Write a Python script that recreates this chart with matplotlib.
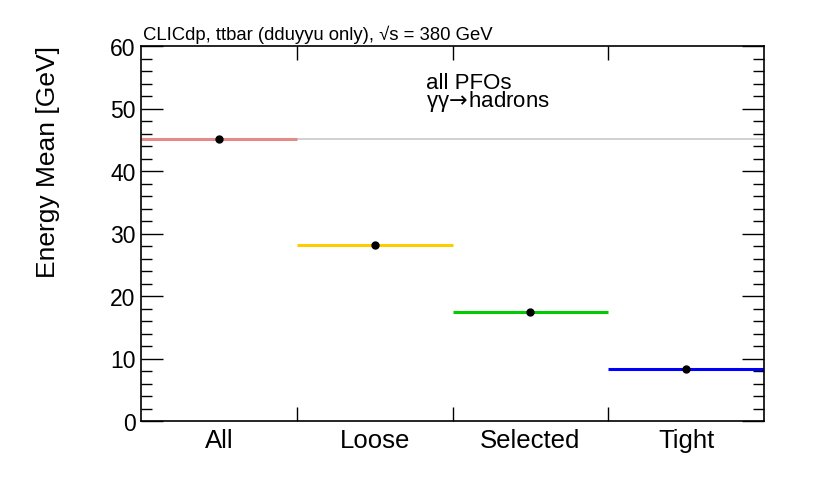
import numpy as np
import matplotlib
matplotlib.use("Agg")
import matplotlib.pyplot as plt
from matplotlib.ticker import MultipleLocator, FixedLocator, NullFormatter

plt.rcParams['font.family'] = ['Liberation Sans', 'DejaVu Sans']
plt.rcParams['mathtext.fontset'] = 'dejavusans'

# values
categories = ["All", "Loose", "Selected", "Tight"]
energy_mean = [45.1, 28.15, 17.45, 8.3]
line_colors = ["#e58a8a", "#ffcc00", "#00cc00", "#0000ff"]
reference_value = 45.1

fig = plt.figure(figsize=(8.3, 4.85), dpi=100)
ax = fig.add_axes([141 / 830, 63 / 485, 623 / 830, 375 / 485])

x = np.arange(len(categories))

# gray reference line at the "All" value
ax.axhline(reference_value, color="#c8c8c8", lw=1.2, zorder=1)

for xi, val, col in zip(x, energy_mean, line_colors):
    ax.hlines(val, xi - 0.5, xi + 0.5, color=col, lw=2.2, zorder=2)
ax.plot(x, energy_mean, "o", color="black", ms=5, zorder=3)

ax.set_xlim(-0.5, len(categories) - 0.5)
ax.set_ylim(0, 60)

# y ticks on both sides, inward
ax.yaxis.set_major_locator(MultipleLocator(10))
ax.yaxis.set_minor_locator(MultipleLocator(2))
ax.tick_params(axis="y", which="major", direction="in", length=16, width=1,
               left=True, right=True, labelsize=16.5, pad=4)
ax.tick_params(axis="y", which="minor", direction="in", length=8, width=1,
               left=True, right=True)

# x: category labels at centres, ticks only at bin edges
ax.set_xticks(x)
ax.set_xticklabels(categories, fontsize=18.5)
ax.tick_params(axis="x", which="major", length=0, pad=5)
ax.xaxis.set_minor_locator(FixedLocator(x[:-1] + 0.5))
ax.xaxis.set_minor_formatter(NullFormatter())
ax.tick_params(axis="x", which="minor", direction="in", length=10, width=1,
               bottom=True, top=True)

for sp in ax.spines.values():
    sp.set_linewidth(1.2)

ax.set_ylabel("Energy Mean [GeV]", fontsize=19)
ax.yaxis.set_label_coords(-0.13, 0.693)

fig.text(143 / 830, 1 - 40 / 485, "CLICdp, ttbar (dduyyu only), √s = 380 GeV",
         fontsize=13.3, ha="left", va="baseline")
ax.text(0.458, 0.84, "all PFOs\n" + r"γγ$\!\rightarrow\!$hadrons",
        transform=ax.transAxes, fontsize=16, ha="left", va="baseline",
        linespacing=0.7)

fig.savefig("out.png", dpi=100)
